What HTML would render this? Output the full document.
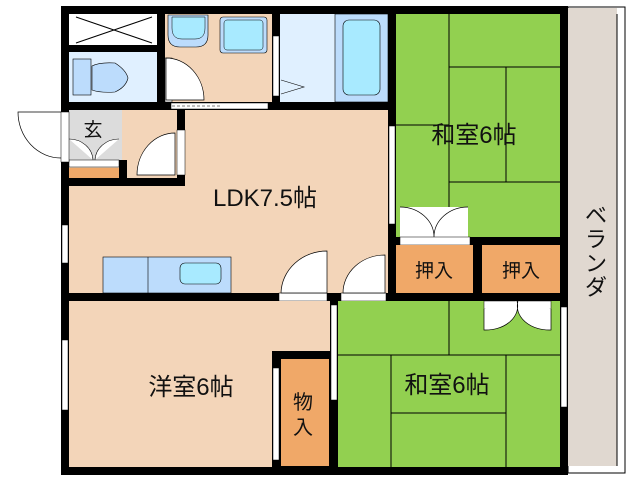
<!DOCTYPE html>
<html><head><meta charset="utf-8"><style>
body{margin:0;background:#fff;width:638px;height:480px;overflow:hidden}
svg text{font-family:"Liberation Sans","Noto Sans CJK JP",sans-serif;fill:#111}
</style></head><body>
<svg width="638" height="480" viewBox="0 0 638 480" xmlns="http://www.w3.org/2000/svg">
<!-- veranda -->
<rect x="568" y="7" width="57" height="466" fill="#fff" stroke="#000" stroke-width="1"/>
<rect x="568" y="8" width="49" height="458" fill="#e0d8d0"/>
<line x1="617" y1="14" x2="617" y2="466" stroke="#000"/>
<!-- floors -->
<rect x="61" y="6" width="507" height="469" fill="#000"/>
<rect x="69" y="14" width="88" height="31" fill="#fff"/>
<path d="M76 17 L152 43 M76 43 L152 17" stroke="#000" stroke-width="1"/>
<rect x="69" y="52" width="88" height="50" fill="#e0f0ff"/>
<rect x="73" y="59" width="18" height="36" fill="#bcdcfc" stroke="#000" stroke-width="0.6"/>
<path d="M92 66 Q100 62 115 63 Q126 70 128 78 Q126 87 115 92 Q100 93 92 90 Z" fill="#bcdcfc" stroke="#000" stroke-width="0.6"/>
<rect x="165" y="14" width="107" height="88" fill="#f3d5b9"/>
<path d="M168 15 h40 v20 q0 12 -12 12 h-16 q-12 0 -12 -12z" fill="#bcdcfc" stroke="#000" stroke-width="0.6"/>
<path d="M172 17 h33 v11 q0 11 -10 11 h-13 q-10 0 -10 -11z" fill="#a8eaff" stroke="#000" stroke-width="0.5"/>
<rect x="220" y="17" width="47" height="36" rx="3" fill="#bcdcfc" stroke="#000" stroke-width="0.6"/>
<rect x="224" y="20" width="39" height="30" rx="3" fill="#a8eaff" stroke="#000" stroke-width="0.5"/>
<rect x="165" y="58" width="7" height="44" fill="#fff" stroke="#000" stroke-width="0.5"/>
<path d="M166 58 A38 42 0 0 1 204 100 L166 100 Z" fill="#fff" stroke="#000" stroke-width="0.7"/>
<rect x="280" y="14" width="108" height="88" fill="#e0f0ff"/>
<rect x="335" y="14" width="53" height="88" fill="#bcdcfc" stroke="#000" stroke-width="0.6"/>
<rect x="343" y="20" width="37" height="75" rx="6" fill="#a8eaff" stroke="#000" stroke-width="0.6"/>
<rect x="273" y="36" width="6" height="60" fill="#fff" stroke="#000" stroke-width="0.5"/>
<path d="M281 80 L304 87 L281 94" fill="none" stroke="#000" stroke-width="0.6"/>
<rect x="171" y="103" width="97" height="6" fill="#fff" stroke="#000" stroke-width="0.5"/>
<line x1="172" y1="106" x2="220" y2="106" stroke="#000" stroke-dasharray="3,2" stroke-width="0.6"/>
<!-- LDK -->
<rect x="69" y="110" width="319" height="183" fill="#f3d5b9"/>
<rect x="69" y="110" width="53" height="52" fill="#dcdcdc"/>
<rect x="69" y="160" width="50" height="7" fill="#fff" stroke="#000" stroke-width="0.5"/>
<path d="M69 139 A24 22 0 0 1 93 160 M119 139 A24 22 0 0 0 95 160" fill="#fff" stroke="#000" stroke-width="0.6"/>
<rect x="69" y="168" width="50" height="10" fill="#f0a868"/>
<rect x="61" y="178" width="124" height="8" fill="#000"/>
<rect x="119" y="160" width="8" height="26" fill="#000"/>
<rect x="177" y="110" width="8" height="76" fill="#000"/>
<rect x="177" y="130" width="8" height="45" fill="#fff" stroke="#000" stroke-width="0.5"/>
<path d="M175 133 A38 42 0 0 0 137 175 L175 175 Z" fill="#fff" stroke="#000" stroke-width="0.7"/>
<!-- entrance door -->
<rect x="61" y="112" width="8" height="50" fill="#fff" stroke="#000" stroke-width="0.5"/>
<path d="M61 112 L18 112 A43 46 0 0 0 61 158" fill="none" stroke="#000" stroke-width="0.7"/>
<!-- windows -->
<rect x="62" y="225" width="6" height="38" fill="#fff" stroke="#000" stroke-width="0.5"/>
<rect x="62" y="340" width="6" height="70" fill="#fff" stroke="#000" stroke-width="0.5"/>
<rect x="389" y="126" width="6" height="98" fill="#fff" stroke="#000" stroke-width="0.5"/>
<!-- kitchen -->
<rect x="103" y="257" width="128" height="36" fill="#bcdcfc" stroke="#000" stroke-width="0.6"/>
<line x1="148" y1="257" x2="148" y2="293" stroke="#000" stroke-width="0.6"/>
<rect x="180" y="263" width="41" height="21" rx="5" fill="#a8eaff" stroke="#000" stroke-width="0.6"/>
<!-- LDK doors -->
<rect x="279" y="293" width="48" height="8" fill="#fff" stroke="#000" stroke-width="0.5"/>
<path d="M327 251 A46 43 0 0 0 281 293 L327 293 Z" fill="#fff" stroke="#000" stroke-width="0.7"/>
<rect x="341" y="293" width="45" height="8" fill="#fff" stroke="#000" stroke-width="0.5"/>
<path d="M385 255 A42 38 0 0 0 343 293 L385 293 Z" fill="#fff" stroke="#000" stroke-width="0.7"/>
<!-- 洋室 -->
<rect x="69" y="301" width="261" height="166" fill="#f3d5b9"/>
<rect x="272" y="351" width="58" height="116" fill="#000"/>
<rect x="281" y="359" width="48" height="107" fill="#f0a868"/>
<rect x="273" y="368" width="6" height="92" fill="#fff" stroke="#000" stroke-width="0.5"/>
<!-- upper tatami -->
<rect x="396" y="14" width="164" height="223" fill="#92d050"/>
<g stroke="#000" stroke-width="1" fill="none">
<path d="M449 14 V237 M449 67 H560 M506 67 V182 M449 182 H560 M396 125 H449"/>
</g>
<rect x="400" y="207" width="68" height="31" fill="#fff"/>
<path d="M400 207 A34 30 0 0 1 434 237 M468 207 A34 30 0 0 0 434 237" fill="#fff" stroke="#000" stroke-width="0.7"/>
<rect x="400" y="237" width="70" height="8" fill="#fff" stroke="#000" stroke-width="0.5"/>
<!-- closets -->
<rect x="396" y="245" width="77" height="48" fill="#f0a868"/>
<rect x="482" y="245" width="78" height="48" fill="#f0a868"/>
<!-- lower tatami -->
<rect x="338" y="301" width="222" height="166" fill="#92d050"/>
<g stroke="#000" stroke-width="1" fill="none">
<path d="M449 301 V355 M338 355 H560 M391 355 V467 M506 355 V467 M391 413 H506"/>
</g>
<rect x="484" y="301" width="67" height="8" fill="#fff" stroke="#000" stroke-width="0.5"/>
<path d="M484 309 V330 A32 24 0 0 0 517 301 M551 309 V330 A32 24 0 0 1 518 301" fill="#fff" stroke="#000" stroke-width="0.7"/>
<rect x="331" y="305" width="6" height="95" fill="#fff" stroke="#000" stroke-width="0.5"/>
<rect x="561" y="307" width="6" height="100" fill="#fff" stroke="#000" stroke-width="0.5"/>
<!-- labels -->
<text x="265" y="206" font-size="24" text-anchor="middle">LDK7.5帖</text>
<text x="474" y="143" font-size="24" text-anchor="middle">和室6帖</text>
<text x="447" y="393" font-size="24" text-anchor="middle">和室6帖</text>
<text x="191" y="395" font-size="24" text-anchor="middle">洋室6帖</text>
<text x="434" y="277" font-size="19" text-anchor="middle">押入</text>
<text x="521" y="277" font-size="19" text-anchor="middle">押入</text>
<text x="303" y="409" font-size="20" text-anchor="middle">物</text>
<text x="303" y="434" font-size="20" text-anchor="middle">入</text>
<text x="93" y="136" font-size="19" text-anchor="middle">玄</text>
<text x="596" y="223" font-size="22" text-anchor="middle">ベ</text>
<text x="596" y="247" font-size="22" text-anchor="middle">ラ</text>
<text x="596" y="271" font-size="22" text-anchor="middle">ン</text>
<text x="596" y="295" font-size="22" text-anchor="middle">ダ</text>
</svg>
</body></html>
